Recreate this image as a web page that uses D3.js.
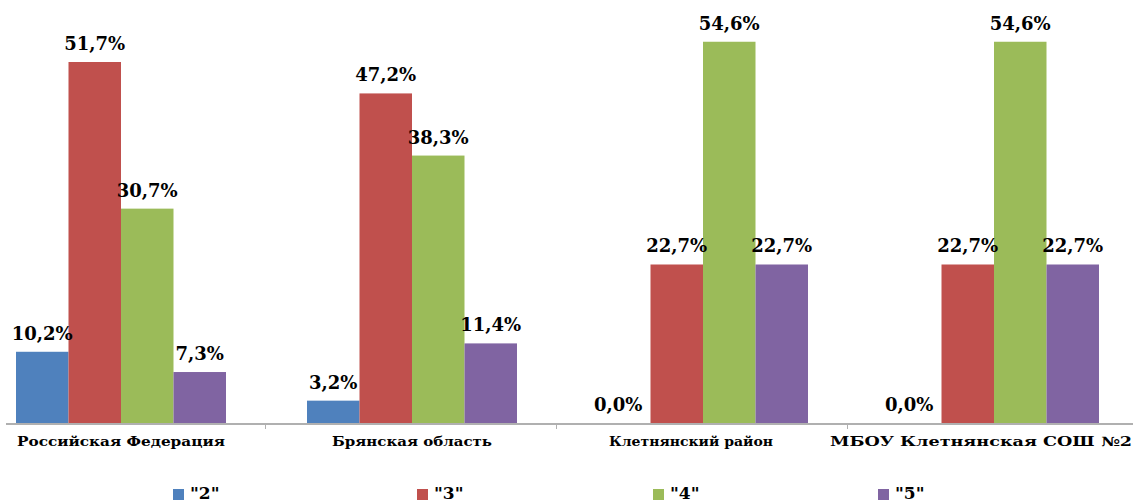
<!DOCTYPE html>
<html><head><meta charset="utf-8">
<script src="https://cdn.jsdelivr.net/npm/d3@7"></script>
<style>body{margin:0;background:#fff;overflow:hidden}svg{display:block}</style>
</head><body>
<script>
const categories = ["Российская Федерация","Брянская область","Клетнянский район","МБОУ Клетнянская СОШ №2"];
const seriesNames = ['"2"','"3"','"4"','"5"'];
const s2 = [10.2, 3.2, 0.0, 0.0];
const s3 = [51.7, 47.2, 22.7, 22.7];
const s4 = [30.7, 38.3, 54.6, 54.6];
const s5 = [7.3, 11.4, 22.7, 22.7];
const seriesValues = [s2, s3, s4, s5];
const colors = ["#4F81BD","#C0504D","#9BBB59","#8064A2"];

const W = 1133, H = 502;
const svg = d3.select("body").append("svg").attr("width", W).attr("height", H);
const baseY = 423;
const x0 = d3.scaleBand().domain(categories).range([-24.5, -24.5 + 4*291]).padding(0);
const x1 = d3.scaleBand().domain(seriesNames).range([40.5, 250.5]).padding(0);
const y = d3.scaleLinear().domain([0, 51.7]).range([baseY, 62]);

const fmt = v => v.toFixed(1).replace(".", ",") + "%";
const serif = "DejaVu Serif, serif";

const g = svg.append("g");
categories.forEach((c, ci) => {
  seriesNames.forEach((s, si) => {
    const v = seriesValues[si][ci];
    g.append("rect")
      .attr("x", x0(c) + x1(s))
      .attr("y", y(v))
      .attr("width", x1.bandwidth())
      .attr("height", baseY - y(v))
      .attr("fill", colors[si]);
  });
});

svg.append("line").attr("x1", 6).attr("x2", W).attr("y1", baseY + 1).attr("y2", baseY + 1)
  .attr("stroke", "#B0B0B0").attr("stroke-width", 2);
categories.slice(1).forEach(c => {
  svg.append("line").attr("x1", x0(c) - 1).attr("x2", x0(c) - 1)
    .attr("y1", baseY).attr("y2", baseY + 6).attr("stroke", "#B0B0B0").attr("stroke-width", 1);
});

const catWidths = [208, 160, 164, 302];
categories.forEach((c, ci) => {
  const w = catWidths[ci];
  const shift = ci === 2 ? -12 : 0;
  const cx = Math.min(x0(c) + x0.bandwidth()/2 + shift, W - 1 - w/2);
  svg.append("text")
    .attr("x", cx)
    .attr("y", 446)
    .attr("text-anchor", "middle")
    .attr("font-family", serif)
    .attr("font-weight", "bold")
    .attr("font-size", 13)
    .attr("textLength", w)
    .attr("lengthAdjust", "spacingAndGlyphs")
    .attr("fill", "#000")
    .text(c);
});

categories.forEach((c, ci) => {
  seriesNames.forEach((s, si) => {
    const v = seriesValues[si][ci];
    svg.append("text")
      .attr("x", x0(c) + x1(s) + x1.bandwidth()/2 - (v === 0 ? 6 : 0))
      .attr("y", y(v) - 12)
      .attr("text-anchor", "middle")
      .attr("font-family", serif)
      .attr("font-weight", "bold")
      .attr("font-size", 18)
      .attr("fill", "#000")
      .text(fmt(v));
  });
});

const legendX = [173, 417, 653, 878];
seriesNames.forEach((s, si) => {
  svg.append("rect").attr("x", legendX[si]).attr("y", 489).attr("width", 11).attr("height", 11).attr("fill", colors[si]);
  svg.append("text").attr("x", legendX[si] + 17).attr("y", 499)
    .attr("font-family", serif).attr("font-weight", "bold").attr("font-size", 17)
    .attr("fill", "#000").text(s);
});
</script>
</body></html>
